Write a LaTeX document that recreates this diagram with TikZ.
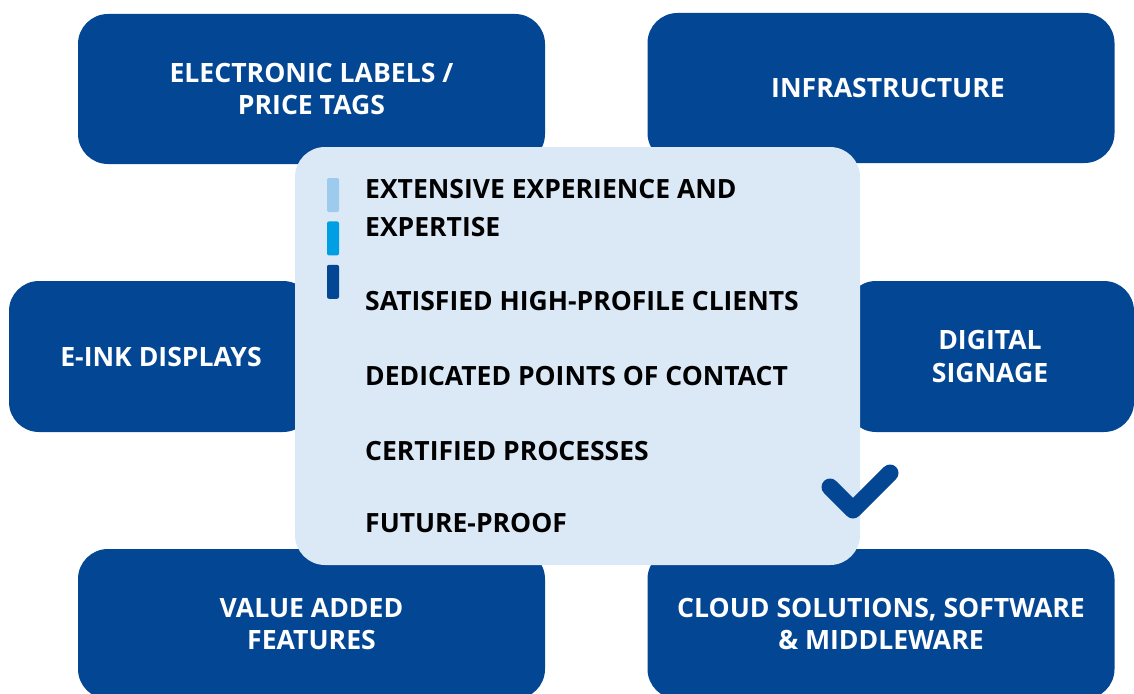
\documentclass[tikz,border=0pt]{standalone}
\usepackage{fontspec}
\setmainfont{Open Sans}
\usetikzlibrary{positioning}
\definecolor{navy}{HTML}{034694}
\definecolor{paleblue}{HTML}{DBE9F7}
\definecolor{skyblue}{HTML}{9DCBEE}
\definecolor{cyanblue}{HTML}{009FE3}

\begin{document}
\begin{tikzpicture}[
        x=1pt, y=-1pt,
        tile/.style={rectangle, fill=navy, rounded corners=30pt, text=white, align=center, font=\fontsize{26.6}{32.5}\selectfont\bfseries, minimum width=467pt, minimum height=150pt, inner sep=0pt},
        panel/.style={rectangle, fill=paleblue, rounded corners=30pt, minimum width=565pt, minimum height=418pt, inner sep=0pt},
        point/.style={anchor=base west, inner sep=0pt, font=\fontsize{26.5}{38}\selectfont\bfseries},
        bar/.style={rectangle, rounded corners=2pt, minimum width=12pt, minimum height=34pt, inner sep=0pt},
        tick/.style={draw=navy, line width=17pt, line cap=round, line join=round}
    ]
        \useasboundingbox (0,0) rectangle (1134,693);
        \clip (0,0) rectangle (1134,693);

        % outer tiles
        \node [tile] (labels) at (311.5,89) {ELECTRONIC LABELS /\\PRICE TAGS};
        \node [tile] (infra) at (881,88) {\hspace*{14pt}INFRASTRUCTURE};
        \node [tile, minimum width=304pt, minimum height=151pt] (eink) at (161,356.5) {E-INK DISPLAYS};
        \node [tile, minimum width=288pt, minimum height=151pt] (signage) at (990,356.5) {DIGITAL\\SIGNAGE};
        \node [tile] (valueadd) at (311.5,624) {VALUE ADDED\\FEATURES};
        \node [tile] (cloud) at (881,624) {CLOUD SOLUTIONS, SOFTWARE\\\& MIDDLEWARE};

        % centre panel
        \node [panel] (panel) at (577.5,356) {};
        \node [bar, fill=skyblue] (b1) at (333,195) {};
        \node [bar, fill=cyanblue, below=9pt of b1] (b2) {};
        \node [bar, fill=navy, below=9pt of b2] (b3) {};

        \node [point] (p1) at (365,198) {EXTENSIVE EXPERIENCE AND};
        \node [point] (p1b) at (365,236) {EXPERTISE};
        \node [point] (p2) at (365,310) {SATISFIED HIGH-PROFILE CLIENTS};
        \node [point] (p3) at (365,385.5) {DEDICATED POINTS OF CONTACT};
        \node [point] (p4) at (365,460) {CERTIFIED PROCESSES};
        \node [point] (p5) at (365,532) {FUTURE-PROOF};

        % check mark
        \coordinate (t1) at (830,487);
        \coordinate (t2) at (853,510);
        \coordinate (t3) at (890,473);
        \draw [tick] (t1) -- (t2) -- (t3);
    \end{tikzpicture}
\end{document}
